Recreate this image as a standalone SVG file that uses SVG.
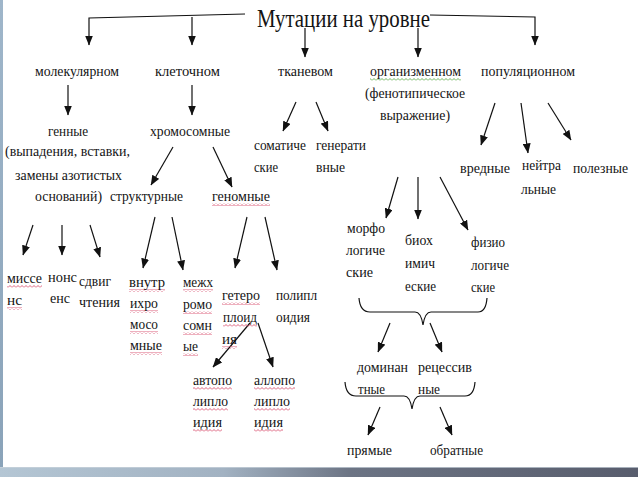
<svg xmlns="http://www.w3.org/2000/svg" width="638" height="479" viewBox="0 0 638 479">
<defs>
<style>
.t{font-family:"Liberation Serif","Times New Roman",serif;font-size:15px;fill:#141414}
.ttl{font-family:"Liberation Serif","Times New Roman",serif;font-size:25px;fill:#141414}
.c{fill:none;stroke:#111;stroke-width:1.2}
.c2{fill:none;stroke:#111;stroke-width:1.2;marker-end:url(#ah)}
.wr{fill:url(#wavyR)}
.wg{fill:url(#wavyG)}
</style>
<marker id="ah" markerUnits="userSpaceOnUse" markerWidth="10" markerHeight="8" refX="9.5" refY="4" orient="auto">
<path d="M0,0 L10,4 L0,8 z" fill="#111"/>
</marker>
<pattern id="wavyR" patternUnits="userSpaceOnUse" width="4" height="3">
<path d="M0,2.5 L2,0.5 L4,2.5" fill="none" stroke="#d9506e" stroke-width="0.9"/>
</pattern>
<pattern id="wavyG" patternUnits="userSpaceOnUse" width="4" height="3">
<path d="M0,2.5 L2,0.5 L4,2.5" fill="none" stroke="#5faa4a" stroke-width="0.9"/>
</pattern>
<linearGradient id="bar" x1="0" y1="0" x2="1" y2="0">
<stop offset="0" stop-color="#b4c6d4"/>
<stop offset="0.35" stop-color="#a2b2c2"/>
<stop offset="0.55" stop-color="#6c7484"/>
<stop offset="1" stop-color="#585d6d"/>
</linearGradient>
<linearGradient id="edge" x1="0" y1="0" x2="0" y2="1">
<stop offset="0" stop-color="#9fb6ca"/>
<stop offset="1" stop-color="#8aa3b9"/>
</linearGradient>
</defs>
<rect x="0" y="0" width="638" height="479" fill="#ffffff"/>
<rect x="0" y="0" width="3" height="468" fill="url(#edge)"/>
<rect x="0" y="467" width="638" height="10" fill="url(#bar)"/>
<rect x="0" y="467" width="638" height="1" fill="#c9d3dc" opacity="0.7"/>

<g id="connectors">
<path class="c2" d="M245,14 L89,18 L89,45"/>
<path class="c2" d="M192,17 L192,45"/>
<path class="c2" d="M305,28 L305,57"/>
<path class="c2" d="M418,28 L418,57"/>
<path class="c2" d="M430,15 L535,17 L535,45"/>
<path class="c2" d="M68,85 L68,115"/>
<path class="c2" d="M192,85 L192,115"/>
<path class="c2" d="M296,102 L283,131"/>
<path class="c2" d="M316,102 L328,131"/>
<path class="c2" d="M495,103 L481,145"/>
<path class="c2" d="M521,103 L528,153"/>
<path class="c2" d="M548,103 L571,140"/>
<path class="c2" d="M398,177 L386,218"/>
<path class="c2" d="M418,177 L418,219"/>
<path class="c2" d="M440,177 L468,230"/>
<path class="c2" d="M33,225 L23,255"/>
<path class="c2" d="M62,225 L62,255"/>
<path class="c2" d="M90,225 L100,257"/>
<path class="c2" d="M173,147 L151,185"/>
<path class="c2" d="M213,147 L232,187"/>
<path class="c2" d="M155,217 L143,268"/>
<path class="c2" d="M172,217 L183,270"/>
<path class="c2" d="M247,217 L235,268"/>
<path class="c2" d="M265,217 L277,270"/>
<path class="c2" d="M250,323 L213,367"/>
<path class="c2" d="M258,323 L273,367"/>
<path class="c" d="M359,298 Q360,312 370,312 L415,312 Q421,312 423,325 Q425,312 431,312 L478,312 Q486,312 487,298"/>
<path class="c2" d="M390,323 L378,352"/>
<path class="c2" d="M430,323 L442,352"/>
<path class="c" d="M345,382 Q346,396 356,396 L404,396 Q410,396 412,409 Q414,396 420,396 L465,396 Q474,396 475,382"/>
<path class="c2" d="M380,407 L368,435"/>
<path class="c2" d="M440,407 L452,435"/>
</g>

<g id="title"><text class="ttl" x="257" y="27" textLength="173" lengthAdjust="spacingAndGlyphs">Мутации на уровне</text></g>

<g id="molecular"><text class="t" x="35" y="76" textLength="84" lengthAdjust="spacingAndGlyphs">молекулярном</text></g>
<g id="cellular"><text class="t" x="155" y="76" textLength="65" lengthAdjust="spacingAndGlyphs">клеточном</text></g>
<g id="tissue"><text class="t" x="278" y="76" textLength="55" lengthAdjust="spacingAndGlyphs">тканевом</text></g>
<g id="organism">
<rect class="wg" x="370" y="78" width="91" height="3"/>
<text class="t" x="370" y="76" textLength="91" lengthAdjust="spacingAndGlyphs">организменном</text>
<text class="t" x="365" y="98" textLength="100" lengthAdjust="spacingAndGlyphs">(фенотипическое</text>
<text class="t" x="380" y="120" textLength="70" lengthAdjust="spacingAndGlyphs">выражение)</text>
</g>
<g id="population"><text class="t" x="481" y="76" textLength="94" lengthAdjust="spacingAndGlyphs">популяционном</text></g>

<g id="genic">
<text class="t" x="48" y="136" textLength="40" lengthAdjust="spacingAndGlyphs">генные</text>
<text class="t" x="5" y="156" textLength="125" lengthAdjust="spacingAndGlyphs">(выпадения, вставки,</text>
<text class="t" x="15" y="180" textLength="107" lengthAdjust="spacingAndGlyphs">замены азотистых</text>
<text class="t" x="35" y="201" textLength="67" lengthAdjust="spacingAndGlyphs">оснований)</text>
</g>
<g id="chromosomal"><text class="t" x="150" y="136" textLength="80" lengthAdjust="spacingAndGlyphs">хромосомные</text></g>
<g id="structural"><text class="t" x="110" y="201" textLength="73" lengthAdjust="spacingAndGlyphs">структурные</text></g>
<g id="genomic">
<rect class="wr" x="212" y="203" width="58" height="3"/>
<text class="t" x="212" y="201" textLength="58" lengthAdjust="spacingAndGlyphs">геномные</text>
</g>
<g id="somatic">
<text class="t" x="254" y="150" textLength="52" lengthAdjust="spacingAndGlyphs">соматиче</text>
<text class="t" x="254" y="172" textLength="24" lengthAdjust="spacingAndGlyphs">ские</text>
</g>
<g id="generative">
<text class="t" x="316" y="150" textLength="50" lengthAdjust="spacingAndGlyphs">генерати</text>
<text class="t" x="316" y="172" textLength="29" lengthAdjust="spacingAndGlyphs">вные</text>
</g>
<g id="harmful"><text class="t" x="460" y="173" textLength="50" lengthAdjust="spacingAndGlyphs">вредные</text></g>
<g id="neutral">
<text class="t" x="522" y="170" textLength="39" lengthAdjust="spacingAndGlyphs">нейтра</text>
<text class="t" x="521" y="194" textLength="35" lengthAdjust="spacingAndGlyphs">льные</text>
</g>
<g id="useful"><text class="t" x="573" y="173" textLength="55" lengthAdjust="spacingAndGlyphs">полезные</text></g>

<g id="morpho">
<text class="t" x="347" y="233" textLength="38" lengthAdjust="spacingAndGlyphs">морфо</text>
<text class="t" x="346" y="255" textLength="39" lengthAdjust="spacingAndGlyphs">логиче</text>
<text class="t" x="346" y="277" textLength="27" lengthAdjust="spacingAndGlyphs">ские</text>
</g>
<g id="biochem">
<text class="t" x="405" y="245" textLength="28" lengthAdjust="spacingAndGlyphs">биох</text>
<text class="t" x="405" y="268" textLength="30" lengthAdjust="spacingAndGlyphs">имич</text>
<text class="t" x="405" y="291" textLength="31" lengthAdjust="spacingAndGlyphs">еские</text>
</g>
<g id="physio">
<text class="t" x="471" y="247" textLength="34" lengthAdjust="spacingAndGlyphs">физио</text>
<text class="t" x="471" y="270" textLength="38" lengthAdjust="spacingAndGlyphs">логиче</text>
<text class="t" x="471" y="292" textLength="24" lengthAdjust="spacingAndGlyphs">ские</text>
</g>
<g id="dominant">
<text class="t" x="357" y="372" textLength="51" lengthAdjust="spacingAndGlyphs">доминан</text>
<text class="t" x="358" y="394" textLength="27" lengthAdjust="spacingAndGlyphs">тные</text>
</g>
<g id="recessive">
<text class="t" x="418" y="372" textLength="54" lengthAdjust="spacingAndGlyphs">рецессив</text>
<text class="t" x="418" y="394" textLength="22" lengthAdjust="spacingAndGlyphs">ные</text>
</g>
<g id="direct"><text class="t" x="347" y="455" textLength="45" lengthAdjust="spacingAndGlyphs">прямые</text></g>
<g id="reverse"><text class="t" x="430" y="455" textLength="53" lengthAdjust="spacingAndGlyphs">обратные</text></g>

<g id="missense">
<rect class="wr" x="7" y="285" width="35" height="3"/>
<rect class="wr" x="7" y="307" width="15" height="3"/>
<text class="t" x="7" y="283" textLength="35" lengthAdjust="spacingAndGlyphs">миссе</text>
<text class="t" x="7" y="305" textLength="15" lengthAdjust="spacingAndGlyphs">нс</text>
</g>
<g id="nonsense">
<text class="t" x="48" y="282" textLength="29" lengthAdjust="spacingAndGlyphs">нонс</text>
<text class="t" x="50" y="303" textLength="20" lengthAdjust="spacingAndGlyphs">енс</text>
</g>
<g id="frameshift">
<text class="t" x="79" y="286" textLength="32" lengthAdjust="spacingAndGlyphs">сдвиг</text>
<text class="t" x="79" y="307" textLength="41" lengthAdjust="spacingAndGlyphs">чтения</text>
</g>
<g id="intrachromosomal">
<rect class="wr" x="129" y="289" width="36" height="3"/>
<rect class="wr" x="130" y="310" width="28" height="3"/>
<rect class="wr" x="130" y="331" width="28" height="3"/>
<rect class="wr" x="130" y="352" width="32" height="3"/>
<text class="t" x="129" y="287" textLength="36" lengthAdjust="spacingAndGlyphs">внутр</text>
<text class="t" x="130" y="308" textLength="28" lengthAdjust="spacingAndGlyphs">ихро</text>
<text class="t" x="130" y="329" textLength="28" lengthAdjust="spacingAndGlyphs">мосо</text>
<text class="t" x="130" y="350" textLength="32" lengthAdjust="spacingAndGlyphs">мные</text>
</g>
<g id="interchromosomal">
<rect class="wr" x="183" y="289" width="30" height="3"/>
<rect class="wr" x="183" y="311" width="29" height="3"/>
<rect class="wr" x="183" y="332" width="29" height="3"/>
<rect class="wr" x="183" y="353" width="15" height="3"/>
<text class="t" x="183" y="287" textLength="30" lengthAdjust="spacingAndGlyphs">межх</text>
<text class="t" x="183" y="309" textLength="29" lengthAdjust="spacingAndGlyphs">ромо</text>
<text class="t" x="183" y="330" textLength="29" lengthAdjust="spacingAndGlyphs">сомн</text>
<text class="t" x="183" y="351" textLength="15" lengthAdjust="spacingAndGlyphs">ые</text>
</g>
<g id="heteroploidy">
<rect class="wr" x="222" y="302" width="38" height="3"/>
<rect class="wr" x="223" y="324" width="34" height="3"/>
<rect class="wr" x="222" y="346" width="15" height="3"/>
<text class="t" x="222" y="300" textLength="38" lengthAdjust="spacingAndGlyphs">гетеро</text>
<text class="t" x="223" y="322" textLength="34" lengthAdjust="spacingAndGlyphs">плоид</text>
<text class="t" x="222" y="344" textLength="15" lengthAdjust="spacingAndGlyphs">ия</text>
</g>
<g id="polyploidy">
<text class="t" x="276" y="300" textLength="41" lengthAdjust="spacingAndGlyphs">полипл</text>
<text class="t" x="276" y="322" textLength="34" lengthAdjust="spacingAndGlyphs">оидия</text>
</g>
<g id="autopolyploidy">
<rect class="wr" x="193" y="387" width="39" height="3"/>
<rect class="wr" x="193" y="408" width="35" height="3"/>
<rect class="wr" x="193" y="429" width="29" height="3"/>
<text class="t" x="193" y="385" textLength="39" lengthAdjust="spacingAndGlyphs">автопо</text>
<text class="t" x="193" y="406" textLength="35" lengthAdjust="spacingAndGlyphs">липло</text>
<text class="t" x="193" y="427" textLength="29" lengthAdjust="spacingAndGlyphs">идия</text>
</g>
<g id="allopolyploidy">
<rect class="wr" x="254" y="387" width="41" height="3"/>
<rect class="wr" x="254" y="408" width="36" height="3"/>
<rect class="wr" x="254" y="429" width="29" height="3"/>
<text class="t" x="254" y="385" textLength="41" lengthAdjust="spacingAndGlyphs">аллопо</text>
<text class="t" x="254" y="406" textLength="36" lengthAdjust="spacingAndGlyphs">липло</text>
<text class="t" x="254" y="427" textLength="29" lengthAdjust="spacingAndGlyphs">идия</text>
</g>
</svg>
